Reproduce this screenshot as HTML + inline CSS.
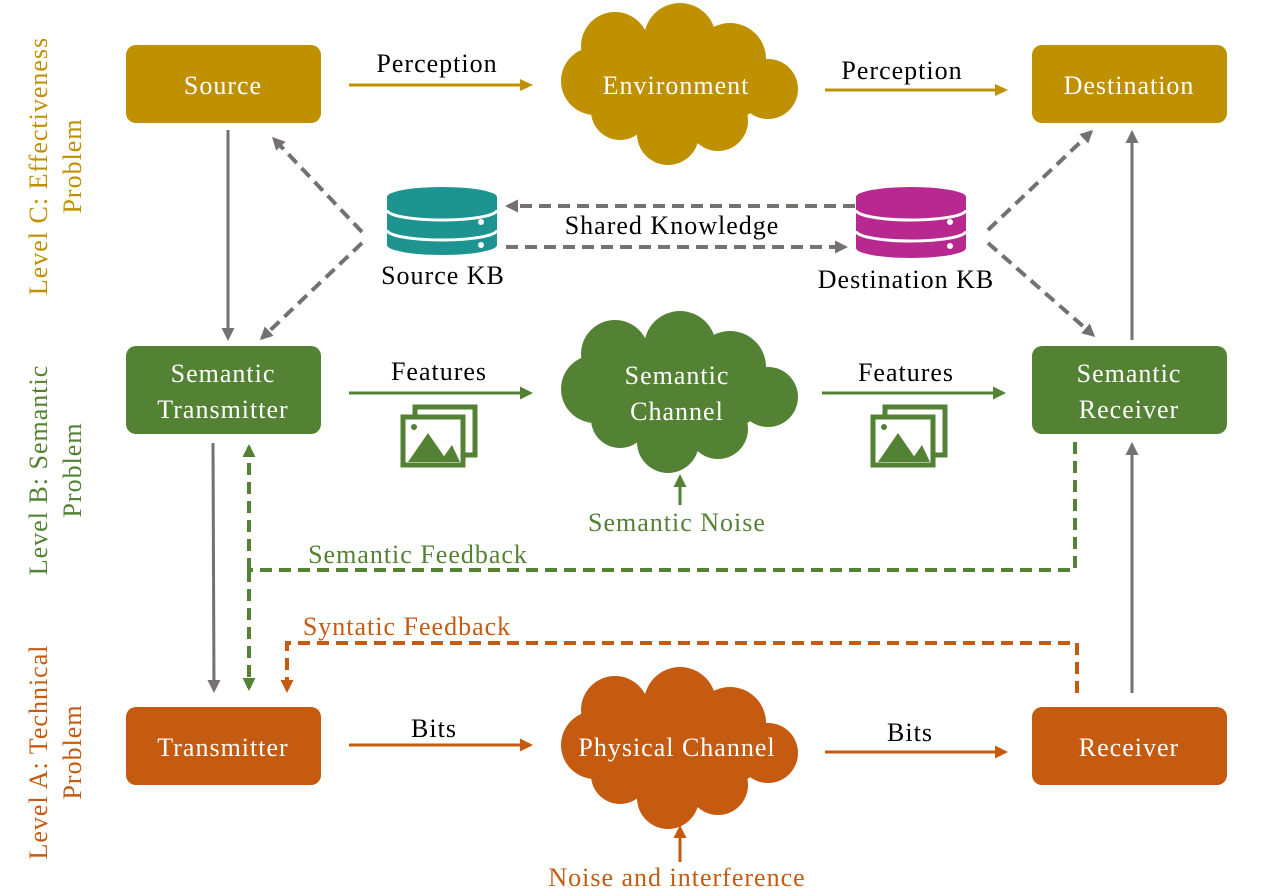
<!DOCTYPE html>
<html><head><meta charset="utf-8"><style>
html,body{margin:0;padding:0;background:#fff;}
svg{display:block;font-family:"Liberation Serif",serif;}
</style></head><body>
<svg width="1262" height="896" viewBox="0 0 1262 896" xmlns="http://www.w3.org/2000/svg">
<defs>
<marker id="ag" markerWidth="13" markerHeight="12" refX="10" refY="6" orient="auto" markerUnits="userSpaceOnUse"><path d="M0,0 L13,6 L0,12 z" fill="#BF9000"/></marker>
<marker id="agr" markerWidth="13" markerHeight="13" refX="10" refY="6.5" orient="auto" markerUnits="userSpaceOnUse"><path d="M0,0 L13,6.5 L0,13 z" fill="#767171"/></marker>
<marker id="agn" markerWidth="13" markerHeight="13" refX="10" refY="6.5" orient="auto" markerUnits="userSpaceOnUse"><path d="M0,0 L13,6.5 L0,13 z" fill="#548235"/></marker>
<marker id="aor" markerWidth="13" markerHeight="13" refX="10" refY="6.5" orient="auto" markerUnits="userSpaceOnUse"><path d="M0,0 L13,6.5 L0,13 z" fill="#C55A11"/></marker>
<g id="cloud">
<circle cx="-82" cy="-3" r="34"/><circle cx="-62" cy="-38" r="34"/><circle cx="3" cy="-45" r="36"/>
<circle cx="53" cy="-25" r="36"/><circle cx="91" cy="5" r="30"/><circle cx="41" cy="37" r="30"/>
<circle cx="-9" cy="50" r="31"/><circle cx="-57" cy="27" r="29"/><ellipse cx="0" cy="0" rx="90" ry="50"/>
</g>
<g id="pic" fill="none" stroke="#548235" stroke-width="5">
<rect x="15" y="2" width="60" height="48"/>
<rect x="3" y="12" width="60" height="48" fill="#fff"/>
<path d="M8,57 L28,28 L48,57 z M40,57 L52,40 L60,57 z" fill="#548235" stroke="none"/>
<circle cx="14" cy="22" r="3" fill="#548235" stroke="none"/>
</g>
</defs>

<g font-size="26" letter-spacing="1">
<text transform="translate(47,166) rotate(-90)" text-anchor="middle" fill="#BF9000">Level C: Effectiveness</text>
<text transform="translate(81,166) rotate(-90)" text-anchor="middle" fill="#BF9000">Problem</text>
<text transform="translate(47,470) rotate(-90)" text-anchor="middle" fill="#548235">Level B: Semantic</text>
<text transform="translate(81,470) rotate(-90)" text-anchor="middle" fill="#548235">Problem</text>
<text transform="translate(47,752) rotate(-90)" text-anchor="middle" fill="#C55A11">Level A: Technical</text>
<text transform="translate(81,752) rotate(-90)" text-anchor="middle" fill="#C55A11">Problem</text>
</g>

<g>
<rect x="126" y="45" width="195" height="78" rx="10" fill="#BF9000"/>
<rect x="1032" y="45" width="195" height="78" rx="10" fill="#BF9000"/>
<rect x="126" y="346" width="195" height="88" rx="10" fill="#548235"/>
<rect x="1032" y="346" width="195" height="88" rx="10" fill="#548235"/>
<rect x="126" y="707" width="195" height="78" rx="10" fill="#C55A11"/>
<rect x="1032" y="707" width="195" height="78" rx="10" fill="#C55A11"/>
</g>
<use href="#cloud" transform="translate(677,84)" fill="#BF9000"/>
<use href="#cloud" transform="translate(677,392)" fill="#548235"/>
<use href="#cloud" transform="translate(677,748)" fill="#C55A11"/>

<g fill="#fff" font-size="26" letter-spacing="1" text-anchor="middle">
<text x="223" y="94">Source</text>
<text x="1129" y="94">Destination</text>
<text x="676" y="94">Environment</text>
<text x="223" y="382">Semantic</text><text x="223" y="418">Transmitter</text>
<text x="1129" y="382">Semantic</text><text x="1129" y="418">Receiver</text>
<text x="677" y="384">Semantic</text><text x="677" y="420">Channel</text>
<text x="223" y="756">Transmitter</text>
<text x="1129" y="756">Receiver</text>
<text x="677" y="756">Physical Channel</text>
</g>

<g>
<path d="M387,197 A55,10 0 0 1 497,197 L497,245 A55,10 0 0 1 387,245 z" fill="#1E9490"/>
<path d="M387,210 A55,10 0 0 0 497,210 M387,230 A55,10 0 0 0 497,230" stroke="#fff" stroke-width="3" fill="none"/>
<circle cx="481" cy="222" r="3" fill="#fff"/><circle cx="481" cy="245" r="3" fill="#fff"/>
<path d="M856,197 A55,10 0 0 1 966,197 L966,248 A55,10 0 0 1 856,248 z" fill="#B7298F"/>
<path d="M856,210 A55,10 0 0 0 966,210 M856,231 A55,10 0 0 0 966,231" stroke="#fff" stroke-width="3" fill="none"/>
<circle cx="950" cy="222" r="3" fill="#fff"/><circle cx="950" cy="246" r="3" fill="#fff"/>
</g>

<use href="#pic" transform="translate(400,405)"/>
<use href="#pic" transform="translate(870,405)"/>

<g stroke-width="3" fill="none">
<line x1="349" y1="85" x2="530" y2="85" stroke="#BF9000" marker-end="url(#ag)"/>
<line x1="825" y1="90" x2="1005" y2="90" stroke="#BF9000" marker-end="url(#ag)"/>
<line x1="349" y1="393" x2="530" y2="393" stroke="#548235" marker-end="url(#agn)"/>
<line x1="822" y1="393" x2="1003" y2="393" stroke="#548235" marker-end="url(#agn)"/>
<line x1="349" y1="745" x2="530" y2="745" stroke="#C55A11" marker-end="url(#aor)"/>
<line x1="825" y1="752" x2="1005" y2="752" stroke="#C55A11" marker-end="url(#aor)"/>
<line x1="228" y1="130" x2="228" y2="338" stroke="#767171" marker-end="url(#agr)"/>
<line x1="213" y1="443" x2="214" y2="690" stroke="#767171" marker-end="url(#agr)"/>
<line x1="1132" y1="693" x2="1132" y2="445" stroke="#767171" marker-end="url(#agr)"/>
<line x1="1132" y1="340" x2="1132" y2="133" stroke="#767171" marker-end="url(#agr)"/>
<line x1="680" y1="505" x2="680" y2="477" stroke="#548235" marker-end="url(#agn)"/>
<line x1="680" y1="862" x2="680" y2="828" stroke="#C55A11" marker-end="url(#aor)"/>
</g>
<g stroke-width="4" fill="none" stroke-dasharray="12,7">
<line x1="362" y1="232" x2="274" y2="139" stroke="#767171" marker-end="url(#agr)"/>
<line x1="362" y1="243" x2="262" y2="338" stroke="#767171" marker-end="url(#agr)"/>
<line x1="988" y1="230" x2="1091" y2="132" stroke="#767171" marker-end="url(#agr)"/>
<line x1="988" y1="243" x2="1093" y2="335" stroke="#767171" marker-end="url(#agr)"/>
<line x1="855" y1="206" x2="508" y2="206" stroke="#767171" marker-end="url(#agr)"/>
<line x1="506" y1="247" x2="845" y2="247" stroke="#767171" marker-end="url(#agr)"/>
<path d="M1075,442 L1075,570 L249,570" stroke="#548235"/>
<line x1="249" y1="570" x2="249" y2="447" stroke="#548235" marker-end="url(#agn)"/>
<line x1="249" y1="570" x2="249" y2="688" stroke="#548235" marker-end="url(#agn)"/>
<path d="M1077,693 L1077,643 L287,643 L287,690" stroke="#C55A11" marker-end="url(#aor)"/>
</g>

<g font-size="26" letter-spacing="1" text-anchor="middle">
<text x="437" y="72" fill="#000">Perception</text>
<text x="902" y="79" fill="#000">Perception</text>
<text x="672" y="234" fill="#000">Shared Knowledge</text>
<text x="443" y="284" fill="#000">Source KB</text>
<text x="906" y="288" fill="#000">Destination KB</text>
<text x="439" y="380" fill="#000">Features</text>
<text x="906" y="381" fill="#000">Features</text>
<text x="677" y="531" fill="#548235">Semantic Noise</text>
<text x="418" y="563" fill="#548235">Semantic Feedback</text>
<text x="407" y="635" fill="#C55A11">Syntatic Feedback</text>
<text x="434" y="737" fill="#000">Bits</text>
<text x="910" y="741" fill="#000">Bits</text>
<text x="677" y="886" fill="#C55A11">Noise and interference</text>
</g>
</svg>
</body></html>
